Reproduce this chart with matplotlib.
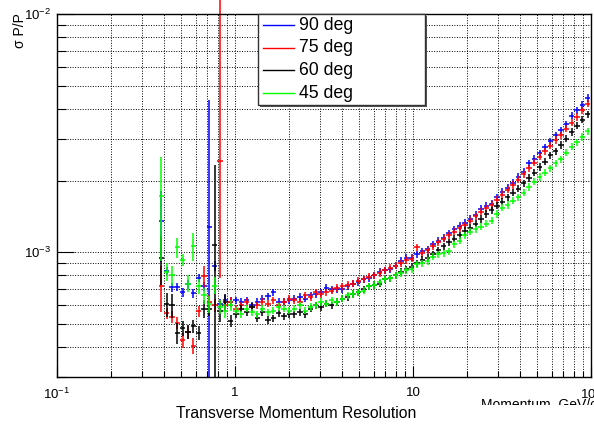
import matplotlib.pyplot as plt
import numpy as np
from matplotlib.patches import Rectangle
from matplotlib.lines import Line2D

plt.rcParams['font.family'] = ['Liberation Sans', 'DejaVu Sans']
plt.rcParams['mathtext.fontset'] = 'custom'
plt.rcParams['mathtext.rm'] = 'Liberation Sans'
plt.rcParams['mathtext.it'] = 'Liberation Sans:italic'

# bin centres, GeV/c
momentum = [0.385, 0.4125, 0.4419, 0.4735, 0.5073, 0.5435, 0.5823, 0.6239, 0.6684, 0.7161,
            0.7673, 0.822, 0.881, 0.944, 1.011, 1.083, 1.161, 1.244, 1.332, 1.427,
            1.529, 1.639, 1.756, 1.881, 2.015, 2.159, 2.313, 2.479, 2.656, 2.845,
            3.048, 3.266, 3.499, 3.749, 4.017, 4.304, 4.611, 4.940, 5.293, 5.671,
            6.076, 6.510, 6.975, 7.473, 8.006, 8.578, 9.191, 9.847, 10.55, 11.30,
            12.11, 12.98, 13.90, 14.90, 15.96, 17.10, 18.32, 19.63, 21.03, 22.53,
            24.14, 25.87, 27.71, 29.69, 31.81, 34.09, 36.52, 39.13, 41.92, 44.91,
            48.12, 51.56, 55.24, 59.18, 63.41, 67.94, 72.79, 77.99, 83.56, 89.52, 95.91]

# sigma P / P in units of 1e-3
res_90 = [1.36, 0.835, 0.714, 0.716, 0.682, 0.735, 0.673, 0.784, 0.72, 1.28,
          0.878, 0.61, 0.63, 0.62, 0.63, 0.62, 0.63, 0.60, 0.62, 0.64,
          0.655, 0.68, 0.62, 0.62, 0.63, 0.64, 0.65, 0.64, 0.66, 0.67,
          0.68, 0.71, 0.70, 0.70, 0.70, 0.72, 0.74, 0.75, 0.77, 0.78,
          0.80, 0.83, 0.84, 0.85, 0.88, 0.92, 0.95, 0.95, 0.98, 1.01,
          1.03, 1.08, 1.12, 1.15, 1.20, 1.25, 1.29, 1.33, 1.38, 1.44,
          1.52, 1.57, 1.60, 1.70, 1.80, 1.87, 1.96, 2.08, 2.18, 2.36,
          2.47, 2.60, 2.76, 2.92, 3.10, 3.25, 3.45, 3.75, 3.95, 4.15, 4.45]
res_75 = [0.72, 0.556, 0.535, 0.505, 0.428, 0.462, 0.406, 0.568, 0.796, 0.62,
          0.60, 2.41, 0.60, 0.62, 0.58, 0.60, 0.62, 0.59, 0.60, 0.62,
          0.61, 0.63, 0.60, 0.62, 0.64, 0.63, 0.62, 0.66, 0.65, 0.68,
          0.67, 0.68, 0.69, 0.71, 0.72, 0.73, 0.74, 0.76, 0.77, 0.79,
          0.80, 0.82, 0.84, 0.86, 0.88, 0.90, 0.93, 0.94, 1.05, 0.99,
          1.02, 1.06, 1.10, 1.14, 1.18, 1.22, 1.26, 1.30, 1.36, 1.42,
          1.48, 1.53, 1.58, 1.66, 1.74, 1.83, 1.92, 2.02, 2.13, 2.25,
          2.38, 2.52, 2.65, 2.80, 2.96, 3.10, 3.30, 3.50, 3.70, 3.95, 4.20]
res_60 = [0.95, 0.606, 0.60, 0.458, 0.48, 0.464, 0.49, 0.46, 0.58, 0.58,
          1.07, 0.568, 0.62, 0.517, 0.55, 0.58, 0.56, 0.59, 0.53, 0.56,
          0.52, 0.53, 0.556, 0.54, 0.55, 0.55, 0.56, 0.55, 0.58, 0.60,
          0.59, 0.61, 0.60, 0.62, 0.64, 0.65, 0.67, 0.68, 0.70, 0.72,
          0.73, 0.74, 0.77, 0.78, 0.80, 0.83, 0.85, 0.87, 0.90, 0.93,
          0.95, 0.98, 1.02, 1.06, 1.10, 1.14, 1.18, 1.23, 1.27, 1.32,
          1.38, 1.45, 1.50, 1.57, 1.63, 1.70, 1.78, 1.85, 1.95, 2.05,
          2.16, 2.28, 2.40, 2.55, 2.65, 2.82, 3.00, 3.20, 3.40, 3.60, 3.80]
res_45 = [1.72, 0.83, 0.80, 1.05, 0.93, 0.74, 1.06, 0.72, 0.66, 0.606,
          0.726, 0.59, 0.57, 0.60, 0.57, 0.55, 0.58, 0.56, 0.55, 0.58,
          0.56, 0.57, 0.59, 0.58, 0.57, 0.58, 0.60, 0.57, 0.59, 0.60,
          0.62, 0.61, 0.63, 0.62, 0.64, 0.66, 0.67, 0.68, 0.69, 0.72,
          0.73, 0.75, 0.77, 0.78, 0.80, 0.82, 0.84, 0.85, 0.89, 0.90,
          0.92, 0.96, 0.98, 0.99, 1.01, 1.08, 1.12, 1.18, 1.22, 1.25,
          1.28, 1.32, 1.36, 1.45, 1.54, 1.58, 1.65, 1.70, 1.78, 1.88,
          1.98, 2.07, 2.16, 2.25, 2.36, 2.46, 2.62, 2.78, 2.90, 3.05, 3.22]

# low-momentum errors (lower, upper), same units; the rest are ~3.5 %
err_90 = ([0.45, 0.03, 0.03, 0.03, 0.03, 0.03, 0.03, 0.03, 0.03, 1.27, 0.04, 0.03, 0.03, 0.03],
          [0.45, 0.03, 0.03, 0.03, 0.03, 0.03, 0.03, 0.03, 0.03, 3.09, 0.04, 0.03, 0.03, 0.03])
err_75 = ([0.16, 0.03, 0.03, 0.03, 0.03, 0.03, 0.03, 0.03, 0.08, 0.04, 0.04, 1.63, 0.03, 0.03],
          [0.16, 0.03, 0.03, 0.03, 0.03, 0.03, 0.03, 0.03, 0.08, 0.04, 0.04, 9.20, 0.03, 0.03])
err_60 = ([0.22, 0.07, 0.07, 0.045, 0.035, 0.03, 0.03, 0.03, 0.05, 0.04, 1.069, 0.06, 0.05, 0.03],
          [0.22, 0.07, 0.07, 0.045, 0.035, 0.03, 0.03, 0.03, 0.05, 0.04, 1.26, 0.06, 0.05, 0.03])
err_45 = ([0.80, 0.07, 0.08, 0.10, 0.05, 0.06, 0.14, 0.05, 0.05, 0.05, 0.06, 0.04, 0.04, 0.03],
          [0.80, 0.07, 0.08, 0.10, 0.05, 0.06, 0.14, 0.05, 0.05, 0.05, 0.06, 0.04, 0.04, 0.03])
rel_err = 0.035

labels = ['90 deg', '75 deg', '60 deg', '45 deg']
colors = ['#0000ff', '#ff0000', '#000000', '#00ff00']

W, H = 594, 432
fig = plt.figure(figsize=(W / 100, H / 100), dpi=100)

def fx(px):
    return px / W

def fy(py):
    return 1 - py / H

ax = fig.add_axes([fx(57), fy(377), (591 - 57) / W, (377 - 14) / H])

p = np.array(momentum)
edges = np.sqrt(p[1:] * p[:-1])
edges = np.concatenate([[p[0] ** 2 / edges[0]], edges, [p[-1] ** 2 / edges[-1]]])
xerr = [p - edges[:-1], edges[1:] - p]

for res, err, col in zip([res_90, res_75, res_60, res_45],
                         [err_90, err_75, err_60, err_45], colors):
    y = np.array(res) * 1e-3
    lo = y * rel_err
    hi = y * rel_err
    n = len(err[0])
    lo[:n] = np.array(err[0]) * 1e-3
    hi[:n] = np.array(err[1]) * 1e-3
    eb = ax.errorbar(p, y, xerr=xerr, yerr=[lo, hi], fmt='none',
                     ecolor=col, elinewidth=1.1, capsize=0)
    if col == '#ff0000':
        # the big 75 deg error bar runs past the frame top
        for c in eb.lines[2]:
            c.set_clip_on(False)

ax.set_xscale('log')
ax.set_yscale('log')
ax.set_xlim(0.1, 100)
ax.set_ylim(3e-4, 1e-2)

ax.grid(True, which='both', color='black', linestyle=(0, (1, 1.6)), linewidth=0.7)
ax.set_axisbelow(True)

xlab = {0.1: '$10^{-1}$', 1: '1', 10: '10', 100: '$10^{2}$'}
ax.set_xticks(list(xlab.keys()))
ax.set_xticklabels(list(xlab.values()))
ax.set_yticks([1e-3, 1e-2])
ax.set_yticklabels(['$10^{-3}$', '$10^{-2}$'])
ax.xaxis.set_tick_params(which='major', direction='in', length=7.7, width=0.8, pad=7, labelsize=9.5)
ax.xaxis.set_tick_params(which='minor', direction='in', length=4, width=0.8)
ax.yaxis.set_tick_params(which='major', direction='in', length=12, width=0.8, pad=4, labelsize=9.5)
ax.yaxis.set_tick_params(which='minor', direction='in', length=6.2, width=0.8, labelleft=False)
ax.tick_params(which='both', top=False, right=False)
for s in ax.spines.values():
    s.set_linewidth(1.0)

# legend box with shadow
lx0, ly0, lx1, ly1 = 258, 14, 425, 105
fig.add_artist(Rectangle((fx(lx0 + 2), fy(ly1 + 2)), (lx1 - lx0) / W, (ly1 - ly0) / H,
                         transform=fig.transFigure, facecolor='#555555', edgecolor='none', zorder=5))
fig.add_artist(Rectangle((fx(lx0), fy(ly1)), (lx1 - lx0) / W, (ly1 - ly0) / H,
                         transform=fig.transFigure, facecolor='white', edgecolor='#333333',
                         linewidth=1.0, zorder=6))
for i, (lab, col) in enumerate(zip(labels, colors)):
    yy = 25 + i * 22.5
    fig.add_artist(Line2D([fx(263), fx(294)], [fy(yy), fy(yy)], transform=fig.transFigure,
                          color=col, linewidth=1.0, zorder=7))
    fig.text(fx(299), fy(yy + 0.5), lab, fontsize=12.7, ha='left', va='center', zorder=7)

# axis titles
fig.text(fx(20), fy(13), 'σ P/P', rotation=90, ha='center', va='top', fontsize=10)
fig.text(fx(597), fy(409), 'Momentum  GeV/c', ha='right', va='baseline', fontsize=10, zorder=3)

# title pad sits over the lower part of the x title
fig.add_artist(Rectangle((0, 0), 1, fy(405), transform=fig.transFigure,
                         facecolor='white', edgecolor='none', zorder=4))
fig.text(fx(296), fy(418), 'Transverse Momentum Resolution', ha='center', va='baseline',
         fontsize=11.3, zorder=5)

fig.savefig('out.png', dpi=100)
